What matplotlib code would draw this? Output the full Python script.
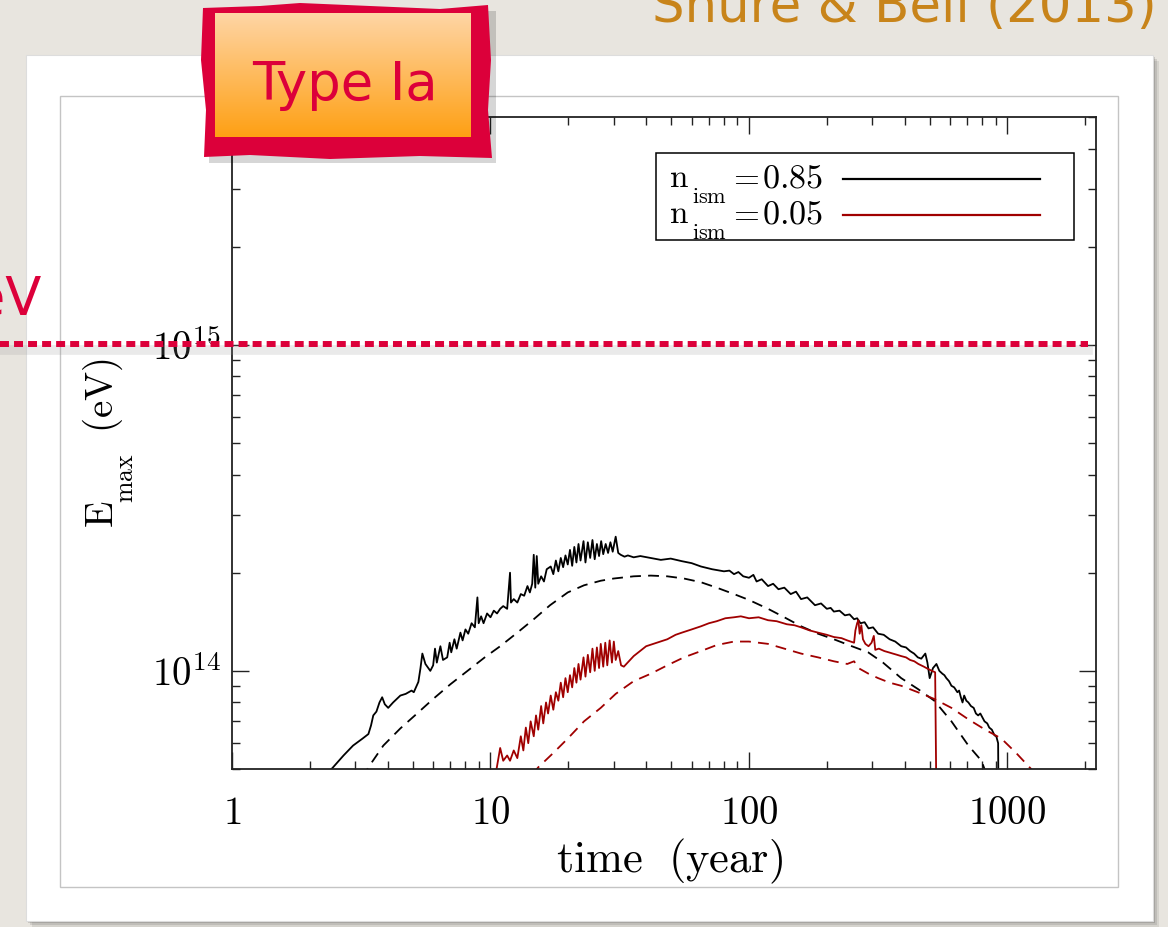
import numpy as np
import matplotlib.pyplot as plt
from matplotlib.patches import Rectangle, Polygon
from matplotlib.lines import Line2D
from matplotlib.ticker import FixedLocator, FixedFormatter, NullFormatter

plt.rcParams['mathtext.fontset'] = 'cm'
plt.rcParams['font.family'] = 'serif'
plt.rcParams['font.serif'] = ['DejaVu Serif']

W, H = 1168, 927

# ---- data (time in years, E_max in units of 1e14 eV) ----
# n_ism = 0.85, solid
t_dense_solid = [2.2, 2.46, 2.7, 2.94, 3.2, 3.37, 3.45, 3.52, 3.62, 3.72, 3.81, 3.9, 4.02, 4.2,
                 4.48, 4.7, 4.95, 5.05, 5.26, 5.36, 5.45, 5.6, 5.85, 6.0, 6.1, 6.2, 6.4, 6.55,
                 6.8, 6.95, 7.05, 7.25, 7.4, 7.65, 7.8, 8.0, 8.2, 8.45, 8.7, 8.9, 9.0, 9.2, 9.4,
                 9.7, 10.0, 10.3, 10.6, 10.9, 11.2, 11.6, 11.9, 12.0, 12.3, 12.7, 13.1, 13.5,
                 13.9, 14.2, 14.5, 14.7, 14.9, 15.1, 15.3, 15.7, 16.1, 16.5, 17.1, 17.5, 17.9,
                 18.3, 18.7, 19.1, 19.5, 19.9, 20.3, 20.7, 21.1, 21.5, 21.9, 22.3, 22.9, 23.3,
                 23.8, 24.3, 24.8, 25.3, 25.8, 26.3, 26.8, 27.3, 27.9, 28.5, 29.1, 29.7, 30.5,
                 31.2, 31.9, 33, 34, 35.8, 38, 41.7, 45.6, 49.8, 55, 60, 65.2, 72, 80, 84, 87.5,
                 91, 95, 100, 104, 107, 112, 118.5, 124, 130, 137, 145, 152, 159, 168, 180, 190,
                 200, 207, 213, 224, 235, 245, 255, 262, 270, 280, 290, 302, 316, 332, 350, 368,
                 388, 405, 420, 435, 450, 464, 481, 490, 500, 515, 531, 545, 560, 570, 580, 594,
                 607, 622, 640, 650, 660, 670, 680, 693, 706, 722, 740, 755, 770, 785, 800, 815,
                 835, 850, 870, 891, 905, 920, 923]
e_dense_solid = [0.46, 0.506, 0.55, 0.59, 0.62, 0.64, 0.68, 0.73, 0.75, 0.80, 0.83, 0.79, 0.77,
                 0.80, 0.84, 0.85, 0.87, 0.86, 0.925, 1.02, 1.13, 1.05, 1.00, 1.04, 1.17, 1.06,
                 1.19, 1.08, 1.10, 1.22, 1.14, 1.25, 1.17, 1.31, 1.24, 1.34, 1.30, 1.40, 1.36,
                 1.68, 1.40, 1.47, 1.40, 1.50, 1.46, 1.53, 1.50, 1.55, 1.58, 1.55, 2.0, 1.62,
                 1.66, 1.62, 1.72, 1.70, 1.82, 1.74, 1.85, 2.27, 1.80, 2.25, 1.85, 1.95, 1.88,
                 2.05, 2.09, 1.98, 2.18, 2.02, 2.22, 2.08, 2.26, 2.12, 2.35, 2.10, 2.40, 2.15,
                 2.45, 2.18, 2.50, 2.15, 2.48, 2.22, 2.52, 2.20, 2.45, 2.25, 2.50, 2.28, 2.45,
                 2.30, 2.48, 2.32, 2.58, 2.30, 2.27, 2.24, 2.26, 2.23, 2.25, 2.22, 2.19, 2.21,
                 2.17, 2.14, 2.09, 2.05, 2.02, 2.03, 1.98, 2.01, 1.95, 1.93, 1.97, 1.88, 1.91,
                 1.82, 1.85, 1.78, 1.80, 1.72, 1.75, 1.66, 1.68, 1.59, 1.61, 1.55, 1.56, 1.52,
                 1.53, 1.48, 1.49, 1.44, 1.45, 1.40, 1.41, 1.35, 1.36, 1.30, 1.29, 1.25, 1.23,
                 1.19, 1.18, 1.15, 1.13, 1.10, 1.09, 1.13, 1.06, 0.95, 1.02, 1.05, 1.00, 0.98,
                 0.97, 0.95, 0.93, 0.90, 0.89, 0.86, 0.87, 0.83, 0.80, 0.84, 0.81, 0.80, 0.78,
                 0.77, 0.74, 0.73, 0.74, 0.72, 0.70, 0.69, 0.67, 0.66, 0.634, 0.63, 0.60, 0.40]

# n_ism = 0.85, dashed
t_dense_dash = [3.2, 3.37, 3.85, 4.48, 5.2, 6.0, 7.0, 8.15, 9.5, 10.9, 12.7, 14.7, 17, 19.9, 23,
                26.7, 30, 35.8, 41.7, 48.3, 56, 65.2, 75, 87.5, 100, 118.5, 137, 159, 185, 213,
                250, 289, 330, 388, 450, 521, 607, 706, 793, 815, 830]
e_dense_dash = [0.47, 0.506, 0.59, 0.666, 0.74, 0.82, 0.91, 1.0, 1.10, 1.19, 1.31, 1.44, 1.59,
                1.74, 1.83, 1.89, 1.92, 1.95, 1.96, 1.95, 1.92, 1.87, 1.80, 1.72, 1.65, 1.55,
                1.46, 1.37, 1.30, 1.25, 1.19, 1.14, 1.06, 0.95, 0.88, 0.81, 0.70, 0.59, 0.53,
                0.50, 0.47]

# n_ism = 0.05, solid
t_thin_solid = [10.3, 10.6, 10.9, 11.2, 11.6, 11.9, 12.3, 12.7, 13.1, 13.4, 13.7, 14.0, 14.3,
                14.7, 15.0, 15.3, 15.7, 16.0, 16.4, 16.7, 17.1, 17.5, 17.9, 18.3, 18.7, 19.1,
                19.5, 19.9, 20.3, 20.7, 21.1, 21.5, 21.9, 22.3, 22.9, 23.3, 23.8, 24.3, 24.8,
                25.3, 25.8, 26.3, 26.7, 27.3, 27.8, 28.3, 28.9, 29.5, 30.0, 30.5, 31.2, 32.0,
                32.8, 35.8, 40, 44, 48.3, 52, 55, 60, 65.2, 70, 75, 81, 87.5, 93, 100, 109,
                118.5, 128, 140, 150, 159, 172, 185, 200, 213, 228, 240, 255, 258, 262, 265, 268,
                272, 276, 282, 290, 298, 304, 308, 318, 334, 347, 360, 374, 388, 405, 420, 436,
                452, 475, 497, 525, 531]
e_thin_solid = [0.45, 0.51, 0.58, 0.53, 0.55, 0.53, 0.57, 0.54, 0.63, 0.57, 0.67, 0.60, 0.70,
                0.63, 0.73, 0.66, 0.78, 0.69, 0.80, 0.74, 0.84, 0.76, 0.86, 0.81, 0.92, 0.83,
                0.95, 0.86, 0.97, 0.89, 1.02, 0.92, 1.05, 0.94, 1.10, 0.96, 1.12, 0.99, 1.17,
                1.00, 1.18, 1.02, 1.21, 1.03, 1.22, 1.04, 1.24, 1.06, 1.23, 1.08, 1.15, 1.04,
                1.03, 1.11, 1.19, 1.22, 1.25, 1.29, 1.31, 1.34, 1.37, 1.40, 1.42, 1.45, 1.46,
                1.47, 1.45, 1.46, 1.43, 1.42, 1.39, 1.38, 1.36, 1.33, 1.31, 1.29, 1.27, 1.26,
                1.24, 1.22, 1.33, 1.40, 1.43, 1.30, 1.38, 1.25, 1.21, 1.19, 1.22, 1.28, 1.16,
                1.17, 1.15, 1.14, 1.13, 1.12, 1.11, 1.10, 1.08, 1.07, 1.05, 1.03, 1.01, 0.99,
                0.40]

# n_ism = 0.05, dashed
t_thin_dash = [14.5, 15.3, 17.5, 19.9, 23, 26.7, 30.5, 35.8, 41.7, 48.3, 56, 65.2, 75, 87.5, 100,
               118.5, 137, 159, 185, 213, 240, 255, 265, 290, 316, 350, 388, 450, 521, 607, 706,
               820, 947, 1080, 1217, 1300]
e_thin_dash = [0.48, 0.506, 0.56, 0.62, 0.70, 0.77, 0.85, 0.93, 0.98, 1.04, 1.10, 1.15, 1.20,
               1.23, 1.23, 1.21, 1.17, 1.13, 1.10, 1.07, 1.05, 1.07, 1.02, 0.98, 0.95, 0.92,
               0.90, 0.86, 0.82, 0.77, 0.71, 0.66, 0.62, 0.56, 0.506, 0.48]

legend_values = ['0.85', '0.05']
x_ticks = [1, 10, 100, 1000]
x_tick_labels = [r'$1$', r'$10$', r'$100$', r'$1000$']
y_ticks = [1e14, 1e15]
y_tick_labels = [r'$10^{14}$', r'$10^{15}$']

BLACK = 'black'
DARKRED = '#a00000'
CRIMSON = '#dc003a'


def fx(x):
    return x / W


def fy(y):
    return 1 - y / H


def box(x0, y0, x1, y1):
    # image pixel box (top-left origin) -> figure fraction rect
    return [fx(x0), fy(y1), (x1 - x0) / W, (y1 - y0) / H]


fig = plt.figure(figsize=(W / 100, H / 100), dpi=100)
fig.patch.set_facecolor('#e8e5df')
tf = fig.transFigure

# slide panel with a soft shadow
for off, a in [(6, 0.08), (4, 0.10), (2, 0.14)]:
    fig.add_artist(Rectangle((fx(26 + off), fy(921 + off)), 1127 / W, 866 / H, transform=tf,
                             facecolor='black', alpha=a, edgecolor='none', zorder=-3))
fig.add_artist(Rectangle((fx(26), fy(921)), 1127 / W, 866 / H, transform=tf,
                         facecolor='white', edgecolor='#dddddd', lw=0.8, zorder=-2))
fig.add_artist(Rectangle((fx(60), fy(887)), 1058 / W, 791 / H, transform=tf,
                         facecolor='none', edgecolor='#c4c4c4', lw=1.0, zorder=-1))

ax = fig.add_axes(box(232, 117, 1096, 769))
ax.set_facecolor('none')

ax.plot(t_dense_solid, np.array(e_dense_solid) * 1e14, color=BLACK, lw=1.3)
ax.plot(t_dense_dash, np.array(e_dense_dash) * 1e14, color=BLACK, lw=1.3, dashes=(6, 4))
ax.plot(t_thin_solid, np.array(e_thin_solid) * 1e14, color=DARKRED, lw=1.3)
ax.plot(t_thin_dash, np.array(e_thin_dash) * 1e14, color=DARKRED, lw=1.3, dashes=(6, 4))

ax.set_xscale('log')
ax.set_yscale('log')
ax.set_xlim(1, 2200)
ax.set_ylim(5e13, 5e15)

ax.xaxis.set_major_locator(FixedLocator(x_ticks))
ax.xaxis.set_major_formatter(FixedFormatter(x_tick_labels))
ax.xaxis.set_minor_formatter(NullFormatter())
ax.yaxis.set_major_locator(FixedLocator(y_ticks))
ax.yaxis.set_major_formatter(FixedFormatter(y_tick_labels))
ax.yaxis.set_minor_formatter(NullFormatter())

ax.tick_params(which='both', direction='in', top=True, right=True, width=1.0, colors='#222222')
ax.tick_params(which='major', length=12)
ax.tick_params(which='minor', length=6)
ax.tick_params(axis='x', which='major', labelsize=28, pad=19, labelcolor='black')
ax.tick_params(axis='y', which='major', labelsize=28, pad=8, labelcolor='black')
for s in ax.spines.values():
    s.set_linewidth(1.3)
    s.set_color('#222222')

# axis titles
fig.text(fx(670), fy(872), r'$\mathrm{time\ \ (year)}$', fontsize=32, ha='center',
         va='baseline')
rot = dict(rotation=90, rotation_mode='anchor', ha='left', va='baseline')
fig.text(fx(113), fy(528), r'$\mathrm{E}$', fontsize=28, **rot)
fig.text(fx(133), fy(503), r'$\mathrm{max}$', fontsize=18.5, **rot)
fig.text(fx(113), fy(433), r'$\mathrm{(eV)}$', fontsize=28, **rot)

# legend (IDL style: label first, then the line sample)
fig.add_artist(Rectangle((fx(656), fy(240)), 418 / W, 87 / H, transform=tf,
                         facecolor='white', edgecolor='black', lw=1.1, zorder=2))
for i, (val, col) in enumerate(zip(legend_values, [BLACK, DARKRED])):
    base = 187 + 36 * i
    fig.text(fx(669), fy(base), r'$\mathrm{n}$', fontsize=24, va='baseline', zorder=3)
    fig.text(fx(692), fy(base + 16), r'$\mathrm{ism}$', fontsize=16, va='baseline', zorder=3)
    fig.text(fx(728), fy(base), r'$=$', fontsize=24, va='baseline', zorder=3)
    fig.text(fx(762), fy(base), r'$' + val + '$', fontsize=24.5, va='baseline', zorder=3)
    fig.add_artist(Line2D([fx(843), fx(1040)], [fy(base - 8)] * 2, transform=tf, color=col,
                          lw=1.6, zorder=3))

# red dotted 1 PeV line across the slide
fig.add_artist(Line2D([0, fx(1088)], [fy(350)] * 2, transform=tf,
                      color='#999999', alpha=0.2, lw=7, zorder=5))
fig.add_artist(Line2D([0, fx(1088)], [fy(344)] * 2, transform=tf,
                      color=CRIMSON, lw=4.3, linestyle=(0, (1.5, 0.85)), zorder=6))
fig.text(fx(42), fy(315), 'PeV', color=CRIMSON, fontsize=38, family='DejaVu Sans',
         ha='right', va='baseline', zorder=6)

# citation at the top right (cut by the slide edge)
fig.text(fx(1157), fy(22), 'Shure & Bell (2013)', color='#c8841a', fontsize=37,
         family='DejaVu Sans', ha='right', va='baseline', zorder=6)

# "Type Ia" badge with a rough red frame
fig.add_artist(Rectangle((fx(209), fy(163)), 287 / W, 152 / H, transform=tf,
                         facecolor='black', alpha=0.16, edgecolor='none', zorder=2))
frame = [(203, 8), (260, 6), (300, 3), (440, 9), (488, 5), (491, 60), (488, 110),
         (492, 158), (420, 156), (330, 159), (250, 155), (204, 157), (206, 110), (201, 60)]
fig.add_artist(Polygon([(fx(x), fy(y)) for x, y in frame], closed=True, transform=tf,
                       facecolor=CRIMSON, edgecolor='none', zorder=2.5))
gax = fig.add_axes(box(215, 13, 470, 137))
gax.set_zorder(3)
top = np.array([254, 213, 165]) / 255
bot = np.array([255, 160, 20]) / 255
frac = np.linspace(0, 1, 100)[:, None, None]
grad = top * (1 - frac) + bot * frac
gax.imshow(np.repeat(grad, 2, axis=1), aspect='auto', extent=[0, 1, 0, 1])
gax.axis('off')
fig.text(fx(345), fy(100), 'Type Ia', color=CRIMSON, fontsize=38, family='DejaVu Sans',
         ha='center', va='baseline', zorder=4)

fig.savefig('out.png', dpi=100, facecolor=fig.get_facecolor())
